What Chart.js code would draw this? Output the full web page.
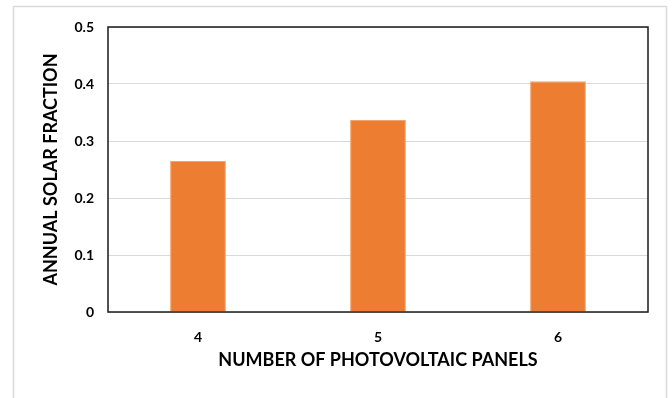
<!DOCTYPE html>
<html>
<head>
<meta charset="utf-8">
<script src="https://cdn.jsdelivr.net/npm/chart.js@4/dist/chart.umd.min.js"></script>
<style>
  html, body { margin: 0; padding: 0; background: #fff; }
  #wrap { width: 672px; height: 398px; position: relative; }
</style>
</head>
<body>
<div id="wrap"><canvas id="solarChart" width="672" height="398"></canvas></div>
<script>
const panels = ['4', '5', '6'];
const solarFraction = [0.265, 0.337, 0.405];
const yTicks = [0, 0.1, 0.2, 0.3, 0.4, 0.5];

const fontFamily = 'Lato, "Open Sans", sans-serif';

// outer frame and plot box
const framePlugin = {
    id: 'frame',
    beforeDraw(chart) {
        const ctx = chart.ctx;
        ctx.save();
        ctx.fillStyle = '#fff';
        ctx.fillRect(0, 0, chart.width, chart.height);
        ctx.strokeStyle = '#d9d9d9';
        ctx.lineWidth = 1.5;
        ctx.strokeRect(13.5, 6.5, 653, 400);
        ctx.restore();
    },
    afterDatasetsDraw(chart) {
        const a = chart.chartArea;
        const ctx = chart.ctx;
        ctx.save();
        ctx.strokeStyle = '#1a1a1a';
        ctx.lineWidth = 1.5;
        ctx.strokeRect(a.left, a.top, a.right - a.left, a.bottom - a.top);
        ctx.restore();
    }
};

const config = {
    type: 'bar',
    data: {
        labels: panels,
        datasets: [{
            data: solarFraction,
            backgroundColor: '#ED7D31',
            borderColor: '#F4A36E',
            borderWidth: 1,
            barPercentage: 0.31,
            categoryPercentage: 1
        }]
    },
    options: {
        responsive: false,
        animation: false,
        layout: { padding: { left: 0, top: 27, right: 24, bottom: 0 } },
        plugins: {
            legend: { display: false },
            tooltip: { enabled: false }
        },
        scales: {
            x: {
                grid: { display: false, drawTicks: false },
                border: { display: false },
                ticks: { color: '#000', padding: 17, font: { family: fontFamily, size: 14, weight: 'bold' } },
                title: {
                    display: true,
                    text: 'NUMBER OF PHOTOVOLTAIC PANELS',
                    color: '#000',
                    padding: { top: 0, bottom: 27 },
                    font: { family: fontFamily, size: 18, weight: 'bold' }
                },
                afterFit(scale) { scale.height = 86; }
            },
            y: {
                min: 0,
                max: 0.5,
                afterBuildTicks(scale) { scale.ticks = yTicks.map(v => ({ value: v })); },
                grid: { color: '#d9d9d9', lineWidth: 1, drawTicks: false },
                border: { display: false },
                ticks: {
                    color: '#000',
                    padding: 14,
                    font: { family: fontFamily, size: 14, weight: 'bold' },
                    callback: v => String(v)
                },
                title: {
                    display: true,
                    text: 'ANNUAL SOLAR FRACTION',
                    color: '#000',
                    padding: { top: 40, bottom: 0 },
                    font: { family: fontFamily, size: 18, weight: 'bold' }
                },
                afterFit(scale) { scale.width = 108; }
            }
        }
    },
    plugins: [framePlugin]
};

window.onload = function() {
    const ctx = document.getElementById('solarChart').getContext('2d');
    new Chart(ctx, config);
};
</script>
</body>
</html>
